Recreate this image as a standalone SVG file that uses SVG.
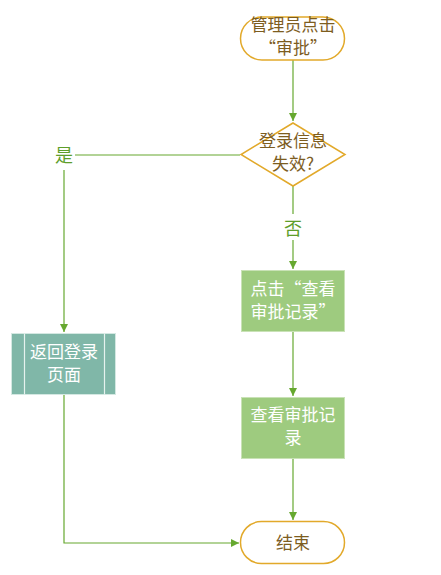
<svg xmlns="http://www.w3.org/2000/svg" width="441" height="575" viewBox="0 0 441 575">
<defs>
<marker id="ah" markerWidth="10" markerHeight="10" refX="8" refY="4" orient="auto" markerUnits="userSpaceOnUse">
<path d="M0,0 L8,4 L0,8 Z" fill="#66a82f"/>
</marker>
<style>
.term{fill:#fff;stroke:#e2a92a;stroke-width:1.5}
.tt{fill:#7d5d1f;font-family:"Noto Sans CJK SC","Noto Sans",sans-serif;font-size:17px;text-anchor:middle}
.wt{fill:#fff;font-family:"Noto Sans CJK SC","Noto Sans",sans-serif;font-size:17px;text-anchor:middle}
.gt{fill:#5e9e2a;font-family:"Noto Sans CJK SC","Noto Sans",sans-serif;font-size:18px;text-anchor:middle}
.proc{fill:#9ecb7f;stroke:#c9e2b6;stroke-width:1}
.sub{fill:#80b7a8;stroke:#d4e8e2;stroke-width:1}
.ln{fill:none;stroke:#66a82f;stroke-width:1.2}
</style>
</defs>
<g id="connectors">
<path class="ln" d="M293,60 V121" marker-end="url(#ah)"/>
<path class="ln" d="M240,155 H75"/>
<path class="ln" d="M64,170 V332" marker-end="url(#ah)"/>
<path class="ln" d="M293,186 V214"/>
<path class="ln" d="M293,240 V269" marker-end="url(#ah)"/>
<path class="ln" d="M293,331 V396" marker-end="url(#ah)"/>
<path class="ln" d="M293,458 V520" marker-end="url(#ah)"/>
<path class="ln" d="M64,395 V543 H239" marker-end="url(#ah)"/>
<text class="gt" x="64" y="161.5">是</text>
<text class="gt" x="293" y="234.5">否</text>
</g>
<g id="start">
<rect class="term" x="240.5" y="17" width="104" height="43" rx="21.5"/>
<text class="tt" x="293" y="31">管理员点击</text>
<text class="tt" x="293" y="54">“审批”</text>
</g>
<g id="decision">
<polygon class="term" points="293,123 345,154.5 293,186 241,154.5"/>
<text class="tt" x="293" y="147">登录信息</text>
<text class="tt" x="293" y="170">失效?</text>
</g>
<g id="back">
<rect class="sub" x="11.5" y="333.5" width="104" height="61"/>
<line x1="24.5" y1="333.5" x2="24.5" y2="394.5" stroke="#e6f2ee" stroke-width="1.2"/>
<line x1="104.5" y1="333.5" x2="104.5" y2="394.5" stroke="#e6f2ee" stroke-width="1.2"/>
<text class="wt" x="64" y="358">返回登录</text>
<text class="wt" x="64" y="381">页面</text>
</g>
<g id="click">
<rect class="proc" x="241.5" y="270.5" width="103" height="61"/>
<text class="wt" x="293" y="295">点击“查看</text>
<text class="wt" x="293" y="318">审批记录”</text>
</g>
<g id="view">
<rect class="proc" x="241.5" y="397.5" width="103" height="61"/>
<text class="wt" x="293" y="421">查看审批记</text>
<text class="wt" x="293" y="444">录</text>
</g>
<g id="end">
<rect class="term" x="240.5" y="521.5" width="104" height="42" rx="21"/>
<text class="tt" x="293" y="549">结束</text>
</g>
</svg>
